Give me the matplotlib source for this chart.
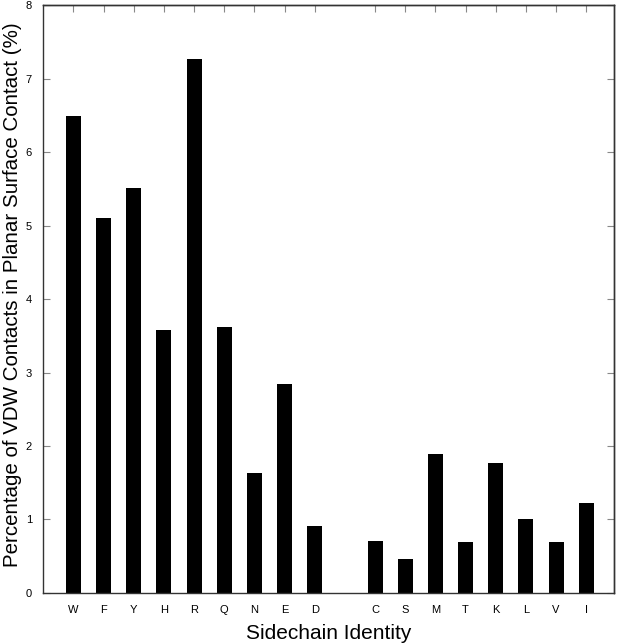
import matplotlib
matplotlib.use('Agg')
import matplotlib.pyplot as plt

plt.rcParams['font.family'] = ['Liberation Sans', 'DejaVu Sans']

left_labels = ['W', 'F', 'Y', 'H', 'R', 'Q', 'N', 'E', 'D']
left_values = [6.49, 5.10, 5.51, 3.58, 7.26, 3.62, 1.63, 2.84, 0.91]
right_labels = ['C', 'S', 'M', 'T', 'K', 'L', 'V', 'I']
right_values = [0.71, 0.46, 1.89, 0.70, 1.77, 1.00, 0.69, 1.23]

labels = left_labels + right_labels
values = left_values + right_values
# one empty slot between the two groups
positions = list(range(len(left_labels))) + [len(left_labels) + 1 + i for i in range(len(right_labels))]

fig = plt.figure(figsize=(6.17, 6.44), dpi=100)
ax = fig.add_axes([0.0697, 0.0792, 0.9254, 0.913])

ax.bar(positions, values, width=0.5, color='black')

ax.set_xlim(-1.01, 17.92)
ax.set_ylim(0, 8)
ax.set_xticks(positions)
ax.set_xticklabels(labels, fontsize=8)
ax.set_yticks(range(0, 9))
ax.tick_params(axis='y', labelsize=8, direction='in', length=5, color='#888888', pad=8)
ax.tick_params(axis='x', length=0, pad=9)

# inward ticks on top and right
top = ax.secondary_xaxis('top')
top.set_xticks(positions)
top.tick_params(direction='in', length=5, color='#888888', labeltop=False)
right = ax.secondary_yaxis('right')
right.set_yticks(range(0, 9))
right.tick_params(direction='in', length=5, color='#888888', labelright=False)

for sp in list(ax.spines.values()) + [top.spines['top'], right.spines['right']]:
    sp.set_color('#333333')
    sp.set_linewidth(1.0)

ax.set_xlabel('Sidechain Identity', fontsize=15, labelpad=6)
ax.set_ylabel('Percentage of VDW Contacts in Planar Surface Contact (%)', fontsize=14.8)
ax.yaxis.set_label_coords(-0.054, 0.508)
ax.yaxis.label.set_va('center')

fig.savefig('out.png', dpi=100)
